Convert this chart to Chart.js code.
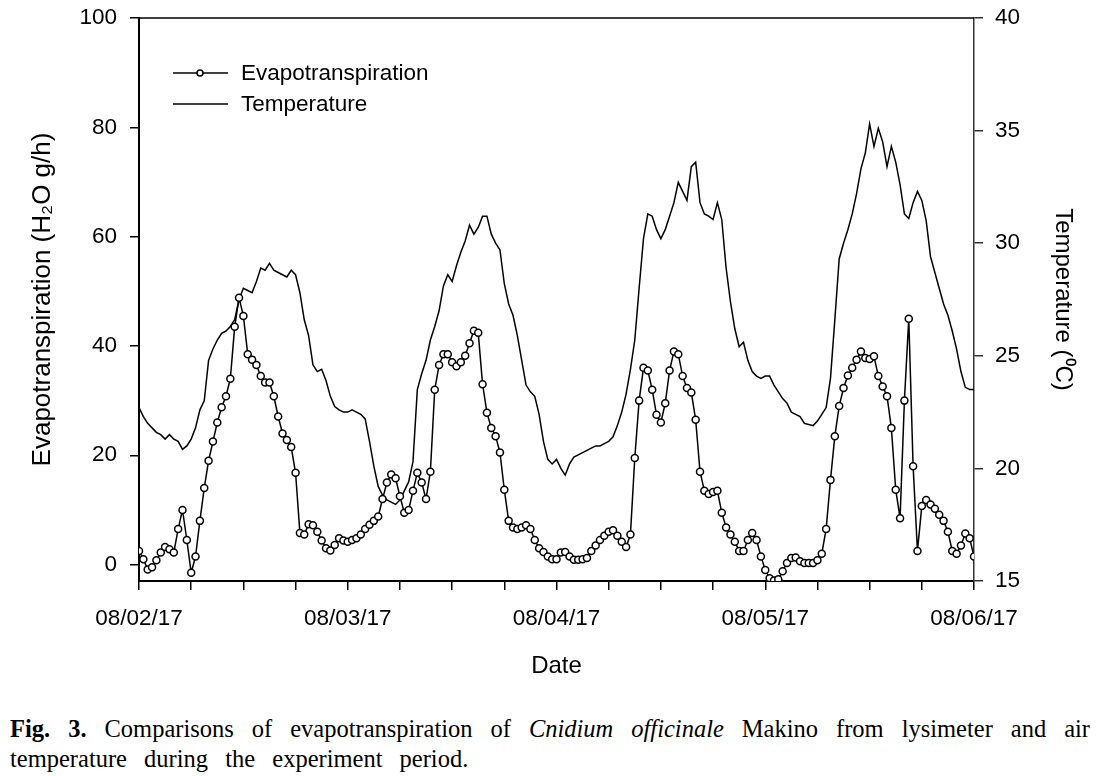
<!DOCTYPE html>
<html>
<head>
<meta charset="utf-8">
<script src="https://cdn.jsdelivr.net/npm/chart.js@4.4.1/dist/chart.umd.min.js"></script>
<style>
  html, body { margin: 0; padding: 0; background: #fff; }
  #wrap { position: relative; width: 1102px; height: 776px; overflow: hidden; }
  #chart { position: absolute; left: 0; top: 0; }
  .caption {
    position: absolute; left: 10px; width: 1080px;
    font-family: "Liberation Serif", "Times New Roman", serif;
    font-size: 24.5px; line-height: 30px; color: #000; white-space: nowrap;
  }
  #cap1 { top: 714px; text-align: justify; text-align-last: justify; }
  #cap2 { top: 744px; word-spacing: 11px; }
</style>
</head>
<body>
<div id="wrap">
  <canvas id="chart" width="1102" height="690"></canvas>
  <div class="caption" id="cap1"><b>Fig. 3.</b> Comparisons of evapotranspiration of <i>Cnidium officinale</i> Makino from lysimeter and air</div>
  <div class="caption" id="cap2">temperature during the experiment period.</div>
</div>
<script>
// Readings every 30 min, 08/02/17 00:00 to 08/06/17 00:00
const dayLabels = ['08/02/17', '08/03/17', '08/04/17', '08/05/17', '08/06/17'];
const sampleStepHours = 0.5;

// H2O g/h
const evapotranspiration = [
  // 08/02
  2.5, 1.0, -0.9, -0.5, 0.8, 2.2, 3.2, 2.8, 2.2, 6.5,
  10.0, 4.5, -1.5, 1.5, 8.0, 14.0, 19.0, 22.5, 26.0, 28.8,
  30.8, 34.0, 43.5, 48.8, 45.5, 38.5, 37.5, 36.5, 34.5, 33.3,
  33.3, 30.8, 27.1, 24.0, 22.8, 21.5, 16.8, 5.8, 5.5, 7.4,
  7.2, 6.0, 4.4, 3.0, 2.6, 3.6, 4.8, 4.4,
  // 08/03
  4.2, 4.5, 4.8, 5.5, 6.5, 7.3, 8.0, 8.8, 12.0, 15.0,
  16.5, 15.8, 12.5, 9.5, 10.0, 13.5, 16.8, 15.0, 12.0, 17.0,
  32.0, 36.5, 38.5, 38.5, 37.0, 36.3, 37.0, 38.2, 40.5, 42.8,
  42.4, 33.0, 27.8, 25.0, 23.5, 20.5, 13.7, 8.0, 6.8, 6.5,
  6.8, 7.2, 6.5, 4.5, 3.0, 2.3, 1.5, 1.0,
  // 08/04
  1.0, 2.2, 2.3, 1.5, 0.9, 0.9, 1.0, 1.2, 2.5, 3.5,
  4.5, 5.3, 6.0, 6.3, 5.3, 4.2, 3.2, 5.5, 19.5, 30.0,
  36.0, 35.5, 32.0, 27.4, 26.0, 29.5, 35.5, 39.0, 38.5, 34.5,
  32.3, 31.5, 26.5, 17.0, 13.5, 12.9, 13.3, 13.5, 9.5, 6.8,
  5.5, 4.2, 2.5, 2.5, 4.5, 5.8, 4.5, 1.5,
  // 08/05
  -1.0, -2.5, -2.9, -2.7, -1.2, 0.3, 1.2, 1.3, 0.6, 0.3,
  0.3, 0.3, 0.8, 2.0, 6.5, 15.5, 23.5, 29.0, 32.3, 34.6,
  36.0, 37.5, 39.0, 37.8, 37.6, 38.1, 34.5, 32.6, 30.8, 25.0,
  13.7, 8.5, 30.0, 45.0, 18.0, 2.5, 10.7, 11.8, 11.0, 10.2,
  9.1, 8.0, 6.0, 2.5, 2.0, 3.5, 5.7, 4.8,
  // 08/06 00:00
  1.5
];

// air temperature, degC
const temperature = [
  // 08/02
  22.7, 22.3, 22.0, 21.8, 21.6, 21.5, 21.3, 21.5, 21.3, 21.2,
  20.85, 21.0, 21.3, 21.8, 22.6, 23.0, 24.8, 25.3, 25.7, 26.0,
  26.1, 26.3, 26.6, 27.5, 28.0, 27.9, 27.8, 28.3, 28.9, 28.8,
  29.1, 28.8, 28.7, 28.6, 28.5, 28.8, 28.6, 27.8, 26.6, 25.9,
  24.6, 24.3, 24.4, 23.9, 23.2, 22.75, 22.6, 22.5,
  // 08/03
  22.5, 22.6, 22.5, 22.4, 22.2, 21.2, 20.1, 19.2, 18.8, 18.6,
  18.5, 18.4, 18.6, 19.0, 19.4, 20.3, 23.5, 24.2, 24.8, 25.7,
  26.3, 27.0, 28.1, 28.6, 28.3, 29.0, 29.6, 30.1, 30.8, 30.4,
  30.7, 31.2, 31.2, 30.4, 30.0, 29.7, 28.2, 27.3, 26.8, 25.9,
  24.8, 23.7, 23.4, 23.2, 22.4, 21.2, 20.4, 20.2,
  // 08/04
  20.4, 20.0, 19.7, 20.2, 20.5, 20.6, 20.7, 20.8, 20.9, 21.0,
  21.0, 21.1, 21.2, 21.4, 21.9, 22.5, 23.3, 24.4, 25.7, 28.0,
  30.2, 31.3, 31.2, 30.6, 30.2, 30.6, 31.2, 31.8, 32.7, 32.3,
  31.9, 33.4, 33.6, 31.8, 31.3, 31.2, 31.05, 31.8, 31.05, 28.9,
  27.4, 26.2, 25.4, 25.6, 24.8, 24.3, 24.1, 24.0,
  // 08/05
  24.1, 24.1, 23.7, 23.4, 23.1, 22.9, 22.5, 22.4, 22.3, 22.0,
  21.95, 21.9, 22.1, 22.4, 22.7, 24.0, 26.6, 29.3, 30.0, 30.6,
  31.3, 32.2, 33.3, 34.0, 35.3, 34.3, 35.1, 34.5, 33.4, 34.3,
  33.6, 32.6, 31.3, 31.1, 31.8, 32.3, 31.9, 31.0, 29.4, 28.7,
  28.0, 27.3, 26.8, 26.1, 25.3, 24.3, 23.6, 23.5,
  // 08/06 00:00
  23.5
];

const leftTicks = [0, 20, 40, 60, 80, 100];
const rightTicks = [15, 20, 25, 30, 35, 40];
const xTickHours = [0, 6, 12, 18, 24, 30, 36, 42, 48, 54, 60, 66, 72, 78, 84, 90, 96];

const sampleHours = evapotranspiration.map((_, i) => i * sampleStepHours);

const SANS = '"Liberation Sans", Arial, sans-serif';
const tickFont = { family: SANS, size: 22.5 };

// top frame line + legend inside the plot
const frameAndLegend = {
  id: 'frameAndLegend',
  afterDraw(chart) {
    const { ctx, chartArea: a } = chart;
    ctx.save();
    ctx.strokeStyle = '#000';
    ctx.lineWidth = 1.5;
    ctx.beginPath();
    ctx.moveTo(a.left, a.top);
    ctx.lineTo(a.right, a.top);
    ctx.stroke();

    ctx.font = '22.5px ' + SANS;
    ctx.fillStyle = '#000';
    ctx.textBaseline = 'middle';
    chart.data.datasets.forEach((ds, i) => {
      const y = 73 + i * 31;
      ctx.lineWidth = 1.5;
      ctx.beginPath();
      ctx.moveTo(173, y);
      ctx.lineTo(228, y);
      ctx.stroke();
      if (ds.pointRadius > 0) {
        ctx.beginPath();
        ctx.arc(200, y, 3, 0, Math.PI * 2);
        ctx.fillStyle = '#fff';
        ctx.fill();
        ctx.stroke();
        ctx.fillStyle = '#000';
      }
      ctx.fillText(ds.label, 241, y + 1);
    });
    ctx.restore();
  }
};

// y scales: fixed width, no extra top/bottom padding from the tick labels
const fixY = (w) => (s) => { s.width = w; s.paddingTop = 0; s.paddingBottom = 0; };

new Chart(document.getElementById('chart'), {
  type: 'line',
  data: {
    datasets: [
      {
        label: 'Evapotranspiration',
        data: sampleHours.map((h, i) => ({ x: h, y: evapotranspiration[i] })),
        yAxisID: 'yET',
        borderColor: '#000',
        borderWidth: 1.5,
        pointStyle: 'circle',
        pointRadius: 3.5,
        pointBorderWidth: 1.5,
        pointBackgroundColor: '#fff',
        pointBorderColor: '#000',
        tension: 0
      },
      {
        label: 'Temperature',
        data: sampleHours.map((h, i) => ({ x: h, y: temperature[i] })),
        yAxisID: 'yT',
        borderColor: '#000',
        borderWidth: 1.5,
        pointRadius: 0,
        tension: 0
      }
    ]
  },
  options: {
    responsive: false,
    animation: false,
    events: [],
    layout: { padding: { top: 18, left: 0, right: 0, bottom: 0 } },
    plugins: { legend: { display: false }, tooltip: { enabled: false } },
    scales: {
      x: {
        type: 'linear',
        min: 0,
        max: 96,
        afterBuildTicks: (s) => { s.ticks = xTickHours.map(v => ({ value: v })); },
        afterFit: (s) => { s.height = 109; },
        border: { display: true, color: '#000', width: 2 },
        grid: { drawOnChartArea: false, tickLength: 9, color: '#000', lineWidth: 1.5 },
        ticks: {
          autoSkip: false, maxRotation: 0, padding: 15, color: '#000', font: tickFont,
          callback: (v) => (v % 24 === 0 ? dayLabels[v / 24] : '')
        },
        title: { display: true, text: 'Date', color: '#000', font: { family: SANS, size: 24 }, padding: { top: 0, bottom: 9 } }
      },
      yET: {
        position: 'left',
        min: -3,
        max: 100,
        afterBuildTicks: (s) => { s.ticks = leftTicks.map(v => ({ value: v })); },
        afterFit: fixY(139),
        border: { display: true, color: '#000', width: 2 },
        grid: { drawOnChartArea: false, tickLength: 9, color: '#000', lineWidth: 1.5 },
        ticks: { padding: 13, color: '#000', font: tickFont },
        title: { display: true, text: 'Evapotranspiration (H\u2082O g/h)', color: '#000', font: { family: SANS, size: 26 }, padding: { top: 27, bottom: 0 } }
      },
      yT: {
        position: 'right',
        min: 15,
        max: 40,
        afterBuildTicks: (s) => { s.ticks = rightTicks.map(v => ({ value: v })); },
        afterFit: fixY(128),
        border: { display: true, color: '#333', width: 1.5 },
        grid: { drawOnChartArea: false, tickLength: 9, color: '#333', lineWidth: 1.5 },
        ticks: { padding: 12, color: '#000', font: tickFont },
        title: { display: true, text: 'Temperature (\u2070C)', color: '#000', font: { family: SANS, size: 24 }, padding: { top: 25, bottom: 0 } }
      }
    }
  },
  plugins: [frameAndLegend]
});
</script>
</body>
</html>
